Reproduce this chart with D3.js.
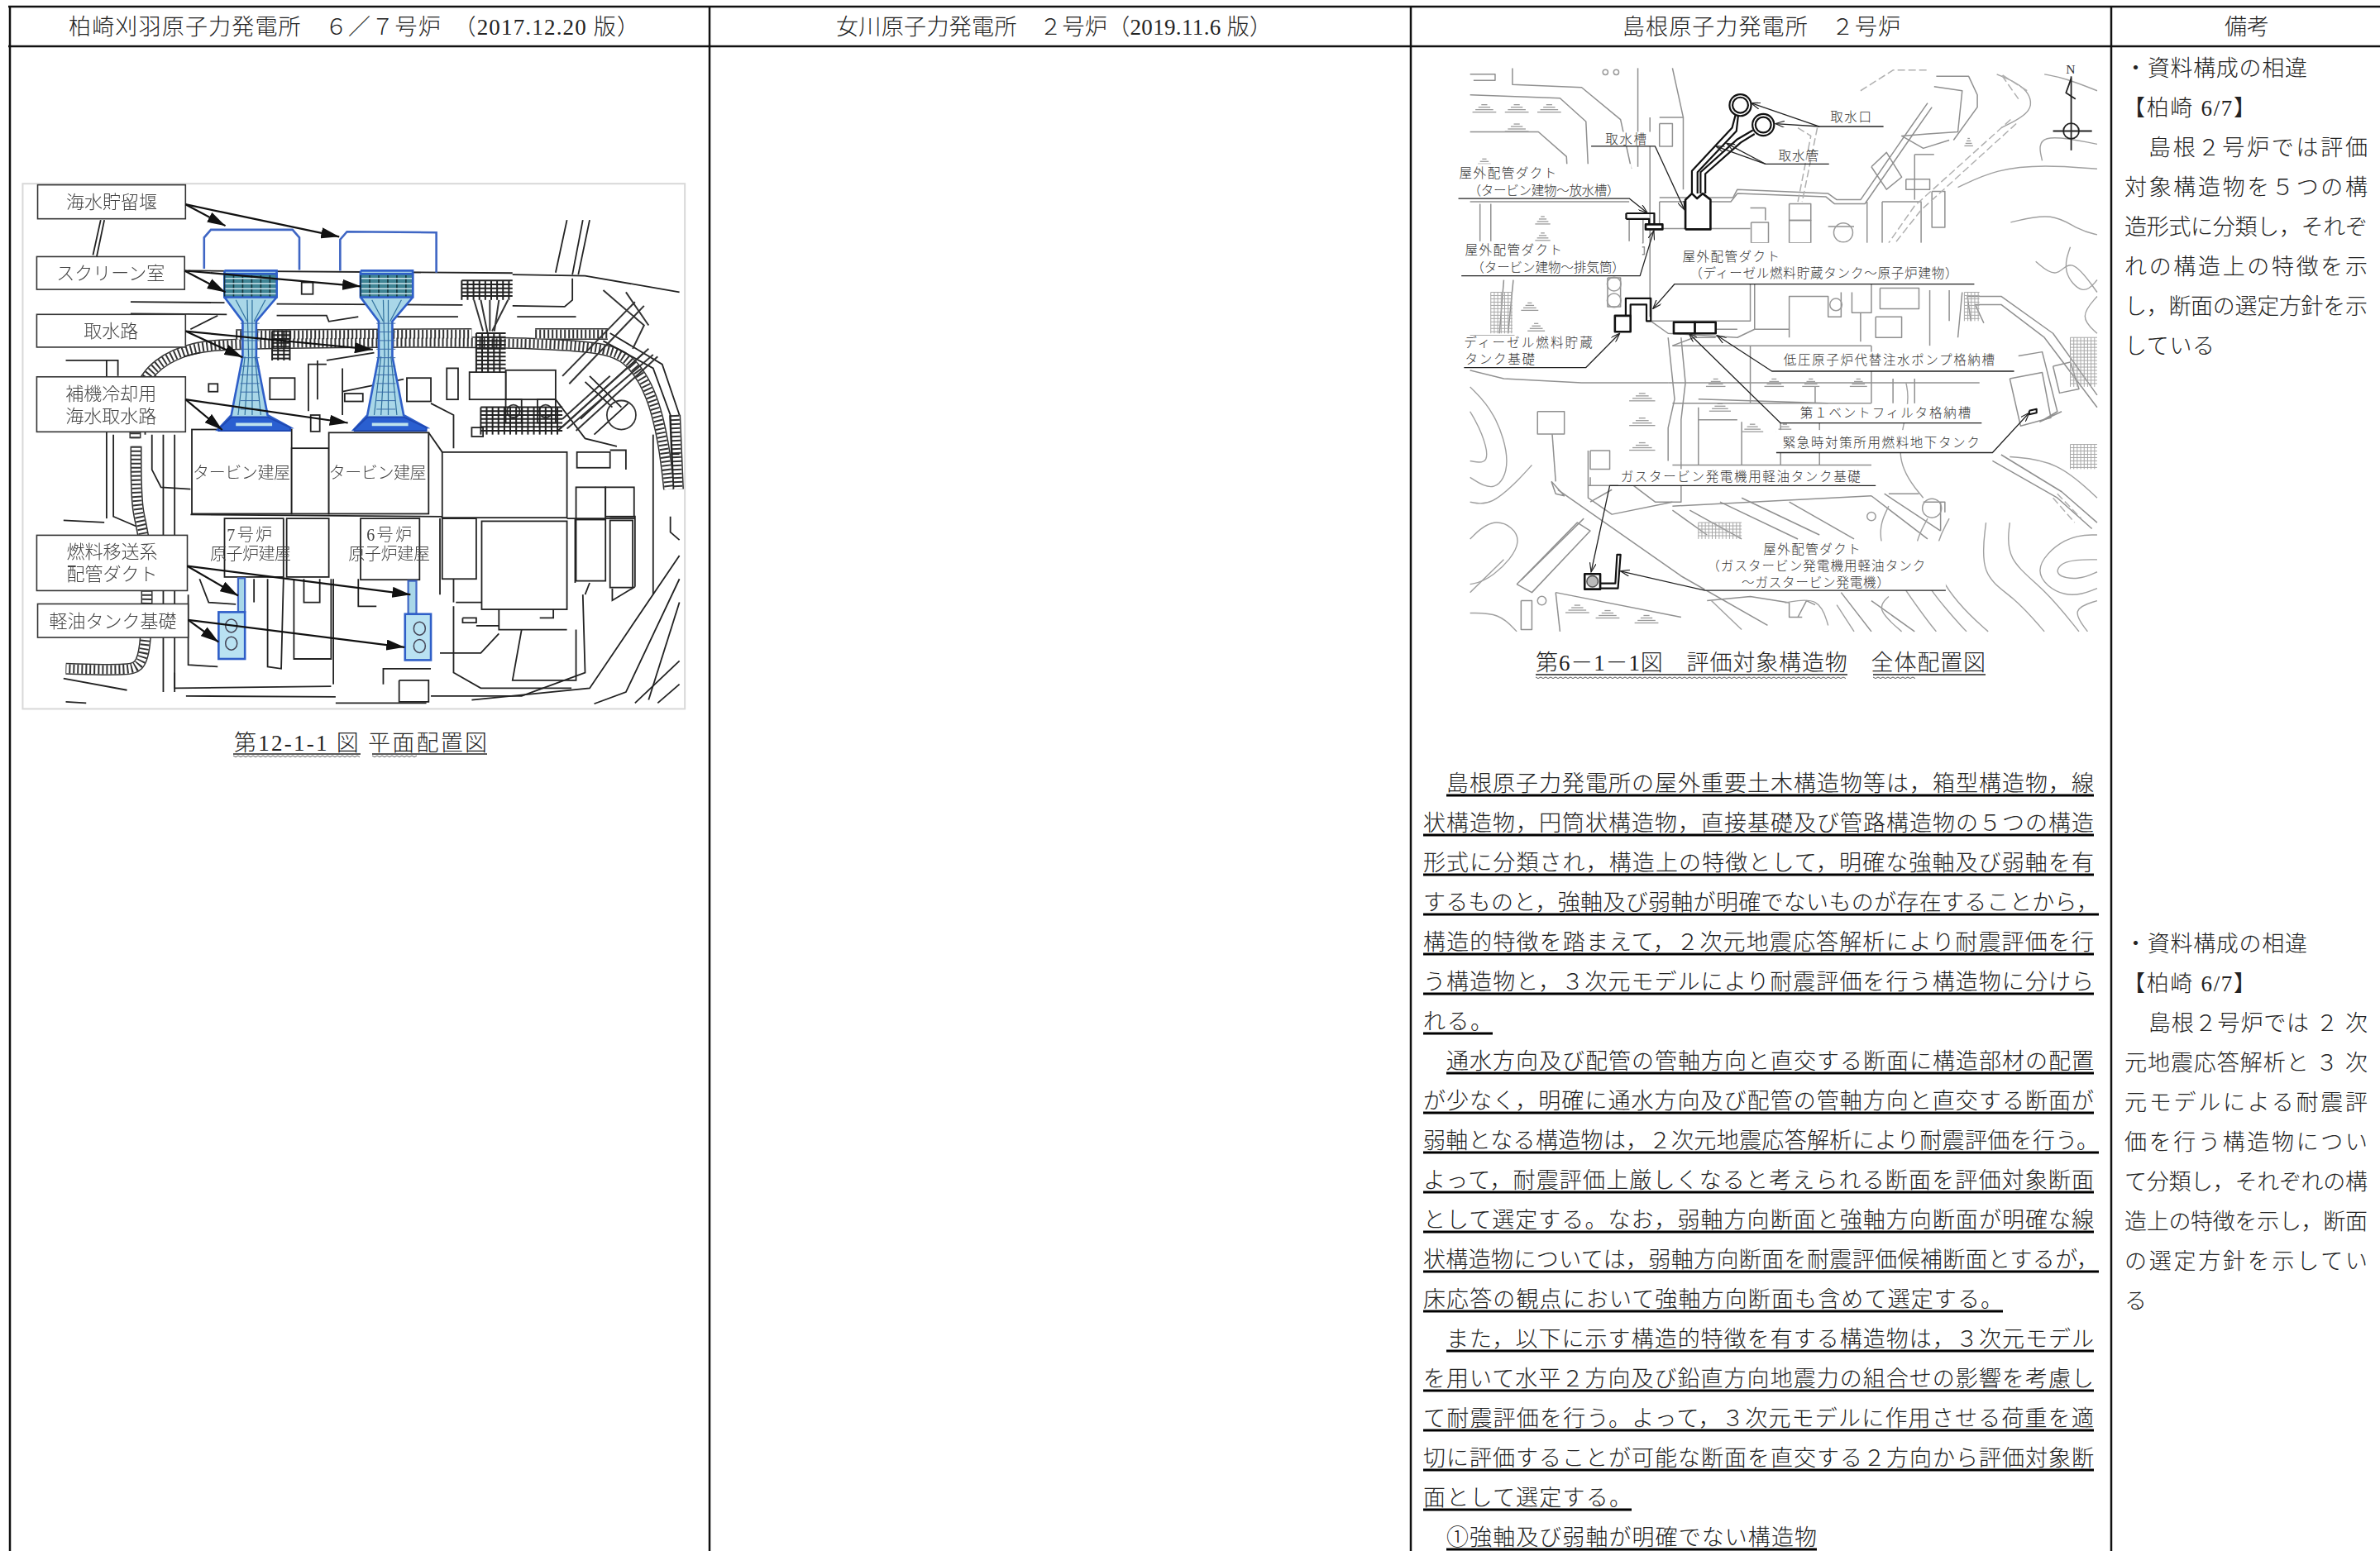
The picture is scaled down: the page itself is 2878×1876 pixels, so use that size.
<!DOCTYPE html>
<html>
<head>
<meta charset="utf-8">
<script src="https://cdn.jsdelivr.net/npm/d3@7"></script>
<style>
  html, body { margin: 0; background: #fff; }
  svg { display: block; }
  text { font-family: 'Liberation Serif', 'Noto Sans CJK JP', serif; font-weight: 300; }
</style>
</head>
<body>
<div id="page"></div>
<script>
// Dimensions de la page
const width = 2878;
const height = 1876;

// Tableau : colonnes et en-têtes
const columnRules = [12, 858, 1706, 2553];
const headerRules = [8, 56];
const headers = [
  ['柏崎刈羽原子力発電所　６／７号炉　（2017.12.20 版）', 83, 773],
  ['女川原子力発電所　２号炉（2019.11.6 版）', 1011, 1538],
  ['島根原子力発電所　２号炉', 1962, 2298],
  ['備考', 2690, 2744]
];

// Texte principal (colonne Shimane) : [texte, début, fin]
const bodyLines = [
  ['島根原子力発電所の屋外重要土木構造物等は，箱型構造物，線', 1749, 2532],
  ['状構造物，円筒状構造物，直接基礎及び管路構造物の５つの構造', 1721, 2532],
  ['形式に分類され，構造上の特徴として，明確な強軸及び弱軸を有', 1721, 2532],
  ['するものと，強軸及び弱軸が明確でないものが存在することから，', 1721, 2538],
  ['構造的特徴を踏まえて，２次元地震応答解析により耐震評価を行', 1721, 2532],
  ['う構造物と，３次元モデルにより耐震評価を行う構造物に分けら', 1721, 2532],
  ['れる。', 1721, 1805],
  ['通水方向及び配管の管軸方向と直交する断面に構造部材の配置', 1749, 2532],
  ['が少なく，明確に通水方向及び配管の管軸方向と直交する断面が', 1721, 2532],
  ['弱軸となる構造物は，２次元地震応答解析により耐震評価を行う。', 1721, 2538],
  ['よって，耐震評価上厳しくなると考えられる断面を評価対象断面', 1721, 2532],
  ['として選定する。なお，弱軸方向断面と強軸方向断面が明確な線', 1721, 2532],
  ['状構造物については，弱軸方向断面を耐震評価候補断面とするが，', 1721, 2538],
  ['床応答の観点において強軸方向断面も含めて選定する。', 1721, 2422],
  ['また，以下に示す構造的特徴を有する構造物は，３次元モデル', 1749, 2532],
  ['を用いて水平２方向及び鉛直方向地震力の組合せの影響を考慮し', 1721, 2532],
  ['て耐震評価を行う。よって，３次元モデルに作用させる荷重を適', 1721, 2532],
  ['切に評価することが可能な断面を直交する２方向から評価対象断', 1721, 2532],
  ['面として選定する。', 1721, 1973],
  ['①強軸及び弱軸が明確でない構造物', 1749, 2197]
];
const bodyFirstUnderline = 962;
const linePitch = 48;

// Colonne « Remarques » : [texte, début, fin]
const noteBlockA = [
  ['・資料構成の相違', 2569, 2790],
  ['【柏崎 6/7】', 2567, 2728],
  ['島根２号炉では評価', 2598, 2863],
  ['対象構造物を５つの構', 2569, 2863],
  ['造形式に分類し，それぞ', 2569, 2863],
  ['れの構造上の特徴を示', 2569, 2863],
  ['し，断面の選定方針を示', 2569, 2863],
  ['している', 2569, 2678]
];
const noteBlockB = [
  ['・資料構成の相違', 2569, 2790],
  ['【柏崎 6/7】', 2567, 2728],
  ['島根２号炉では ２ 次', 2598, 2863],
  ['元地震応答解析と ３ 次', 2569, 2863],
  ['元モデルによる耐震評', 2569, 2863],
  ['価を行う構造物につい', 2569, 2863],
  ['て分類し，それぞれの構', 2569, 2863],
  ['造上の特徴を示し，断面', 2569, 2863],
  ['の選定方針を示してい', 2569, 2863],
  ['る', 2569, 2596]
];

const leftBoxes = [
  [83, 50, 409, 137, ['海水貯留堰']],
  [81, 234, 407, 318, ['スクリーン室']],
  [81, 382, 409, 466, ['取水路']],
  [81, 542, 409, 683, ['補機冷却用', '海水取水路']],
  [81, 948, 413, 1090, ['燃料移送系', '配管ダクト']],
  [83, 1124, 415, 1210, ['軽油タンク基礎']]
];
const leftArrows = [
  [[409, 100], [497, 155]], [[409, 100], [748, 183]],
  [[407, 270], [497, 325]], [[407, 270], [795, 310]],
  [[409, 425], [535, 492]], [[409, 425], [822, 472]],
  [[409, 600], [490, 678]], [[409, 600], [767, 660]],
  [[413, 1027], [525, 1103]], [[413, 1027], [905, 1100]],
  [[415, 1165], [482, 1222]], [[415, 1165], [892, 1235]]
];
const leftBuildingLabels = [
  ['タービン建屋', 425, 640, 785], ['タービン建屋', 725, 940, 785],
  ['7号炉', 500, 600, 943], ['原子炉建屋', 463, 642, 992],
  ['6号炉', 808, 908, 943], ['原子炉建屋', 768, 948, 992]
];
// Bâtiments [x0, y0, x1, y1]
const leftBuildings = [
  [423, 677, 643, 893], [643, 725, 725, 893], [725, 685, 945, 893], [975, 735, 1250, 903],
  [1270, 825, 1335, 905], [1335, 825, 1398, 900], [1272, 735, 1345, 775],
  [495, 905, 625, 1055], [632, 905, 725, 1055], [795, 905, 925, 1062],
  [1062, 912, 1250, 1138], [1270, 908, 1335, 1065], [1345, 910, 1395, 1082],
  [975, 905, 1050, 1060], [1115, 525, 1225, 600], [1035, 530, 1115, 600],
  [595, 545, 650, 600], [897, 545, 950, 605], [1115, 600, 1150, 660], [1185, 600, 1225, 660],
  [1040, 672, 1065, 695], [665, 300, 690, 330], [685, 640, 705, 682], [460, 560, 480, 580], [985, 520, 1010, 600], [760, 585, 800, 605]
];
// Traits noirs du plan
const leftLines = [
  [[415, 270], [1130, 276]], [[1130, 280], [1290, 283], [1498, 325]],
  [[1225, 275], [1250, 140]], [[1262, 280], [1285, 140]], [[1275, 280], [1300, 140]],
  [[205, 230], [222, 140]], [[213, 235], [230, 140]],
  [[288, 350], [495, 352]], [[610, 355], [1020, 358]], [[1130, 360], [1245, 362], [1262, 345], [1262, 290]],
  [[288, 380], [500, 382]], [[610, 385], [720, 385], [725, 400], [790, 388]], [[870, 388], [1010, 388]], [[1140, 388], [1270, 388]],
  [[420, 420], [480, 385]], [[1330, 450], [1440, 520], [1478, 640], [1485, 830]], [[1345, 430], [1460, 510], [1498, 640]],
  [[140, 910], [230, 915]], [[235, 500], [235, 905]], [[145, 500], [260, 500], [260, 540]], [[250, 690], [250, 900], [300, 925]],
  [[420, 895], [1250, 903]], [[945, 685], [975, 735]], [[1250, 905], [1400, 905]],
  [[385, 690], [385, 1350]], [[360, 690], [360, 1350]], [[385, 1300], [385, 1340], [730, 1335]],
  [[335, 690], [335, 780], [355, 825], [420, 830]], [[345, 540], [320, 560], [320, 690]], [[405, 490], [440, 480]],
  [[415, 1100], [415, 1280], [480, 1285]], [[590, 1060], [590, 1285], [620, 1290], [625, 1060]], [[560, 1060], [560, 1120]],
  [[648, 1060], [648, 1265], [730, 1265], [730, 1060]], [[670, 1060], [670, 1120], [705, 1120], [705, 1060]],
  [[735, 1060], [735, 1330]], [[845, 1330], [845, 1290], [950, 1290]], [[880, 1320], [945, 1320], [945, 1375], [880, 1375], [880, 1320]],
  [[1000, 1130], [1000, 1300], [1060, 1340], [1260, 1340]], [[1005, 1120], [1100, 1120], [1100, 1190], [1250, 1190]],
  [[1150, 1190], [1130, 1320], [1270, 1320], [1270, 1190]], [[970, 1250], [1060, 1250], [1100, 1200]],
  [[1285, 1100], [1290, 1300], [1150, 1360], [950, 1360]], [[1498, 1000], [1300, 1340], [1040, 1370]],
  [[1498, 1060], [1380, 1350], [1310, 1380]], [[1498, 1120], [1430, 1370]], [[1498, 1270], [1400, 1378]],
  [[1498, 1330], [1450, 1378]], [[1400, 1080], [1400, 900], [1345, 900]], [[1350, 1085], [1350, 1115], [1400, 1080]],
  [[140, 1315], [280, 1345]], [[410, 1360], [740, 1362]], [[145, 1375], [190, 1378]], [[740, 1378], [940, 1378]],
  [[755, 580], [890, 548]], [[720, 500], [825, 480]], [[1480, 740], [1498, 740]],
  [[1268, 1070], [1268, 905]], [[950, 610], [1000, 640], [1000, 725]], [[1225, 600], [1290, 700], [1360, 720]],
  [[1345, 730], [1380, 730], [1380, 780]], [[1440, 690], [1440, 1100]], [[1478, 900], [1478, 940], [1498, 960]],
  [[1000, 1060], [1000, 1120]], [[970, 905], [970, 1100]], [[1300, 1070], [1290, 1100]], [[790, 1060], [790, 1130], [830, 1130]],
  [[440, 1060], [460, 1120], [520, 1125]], [[1050, 1180], [1100, 1180]], [[1020, 1160], [1050, 1160], [1050, 1172], [1020, 1172], [1020, 1160]],
  [[1150, 1100], [1220, 1100], [1220, 1160], [1190, 1160]], [[700, 500], [700, 600]], [[720, 510], [680, 510], [680, 630]], [[755, 520], [755, 640]],
  [[990, 520], [990, 600]], [[1300, 540], [1370, 620]], [[1290, 555], [1350, 620]], [[1345, 580], [1280, 650]], [[1385, 610], [1310, 690]]
];
// Bande hachurée (routes)
const leftHatchBands = [
  [[298, 700], [298, 580], [345, 505], [425, 465], [520, 455], [1300, 450], [1390, 490], [1440, 590], [1465, 720], [1475, 830]],
  [[300, 720], [300, 900], [325, 950], [325, 1280], [290, 1295], [145, 1290]],
  [[520, 435], [1040, 432]], [[1180, 432], [1340, 432]], [[1488, 640], [1495, 830]]
];
const leftDenseBoxes = [[1018, 295, 1130, 345], [1060, 620, 1240, 690], [1050, 430, 1115, 530], [600, 425, 640, 500]];
const leftDiagonals = [
  [[1240, 540], [1400, 350]], [[1255, 560], [1420, 360]], [[1230, 680], [1430, 470]],
  [[1270, 680], [1450, 490]], [[1240, 650], [1345, 540]], [[1330, 320], [1420, 410], [1395, 470]],
  [[1380, 325], [1430, 410]], [[1060, 345], [1075, 430]], [[1120, 345], [1085, 425]], [[1045, 345], [1065, 425]],
  [[1080, 345], [1080, 425]], [[1100, 345], [1090, 425]], [[1240, 670], [1420, 480]], [[1250, 675], [1440, 485]]
];
const leftCircles = [[1132, 630, 14], [1203, 630, 14], [1370, 640, 32]];
// Ouvrages bleus : même géométrie décalée pour les tranches 7 et 6
const leftIntakeOffsets = [0, 300];
const intakeOutline = [[495, 270], [610, 270], [610, 338], [565, 400], [565, 490], [590, 640], [640, 672], [480, 678], [510, 640], [535, 490], [535, 400], [495, 338]];
const intakeChannels = [[520, 345, 545, 400], [545, 345, 548, 490], [556, 345, 556, 640], [585, 345, 560, 400], [540, 490, 525, 640], [548, 490, 540, 640], [562, 490, 575, 640]];
const reservoirs = [
  [[450, 265], [450, 185], [465, 165], [645, 165], [660, 185], [660, 268]],
  [[750, 270], [750, 190], [765, 170], [962, 172], [962, 275]]
];
const fuelDucts = [[525, 1058, 540, 1145], [900, 1065, 918, 1150]];
const tankPads = [[482, 1145, 540, 1265], [893, 1150, 950, 1268]];
const tankCircles = [[510, 1180], [510, 1225], [925, 1187], [925, 1232]];

const rightLabels = [
  ['取水口', 905, 1000, 160], ['取水槽', 385, 480, 215], ['取水管', 785, 878, 255],
  ['屋外配管ダクト', 47, 272, 298], ['（タービン建物～放水槽）', 68, 418, 340],
  ['屋外配管ダクト', 60, 285, 485], ['（タービン建物～排気筒）', 75, 430, 527],
  ['屋外配管ダクト', 563, 788, 500], ['（ディーゼル燃料貯蔵タンク～原子炉建物）', 580, 1200, 540],
  ['ディーゼル燃料貯蔵', 58, 355, 710], ['タンク基礎', 60, 222, 750],
  ['低圧原子炉代替注水ポンプ格納槽', 797, 1285, 752],
  ['第１ベントフィルタ格納槽', 835, 1230, 880],
  ['緊急時対策所用燃料地下タンク', 795, 1250, 952],
  ['ガスタービン発電機用軽油タンク基礎', 420, 975, 1035],
  ['屋外配管ダクト', 750, 975, 1212],
  ['（ガスタービン発電機用軽油タンク', 620, 1125, 1252],
  ['～ガスタービン発電機）', 700, 1042, 1293],
  ['N', 1450, 1475, 45]
];
// Fonds blancs derrière les étiquettes
const rightMasks = [
  [45, 278, 445, 362], [52, 466, 470, 550], [500, 470, 1240, 570], [52, 695, 345, 773],
  [790, 735, 1330, 782], [790, 862, 1255, 908], [780, 925, 1285, 980], [415, 1020, 1010, 1060],
  [615, 1195, 1172, 1315], [360, 200, 490, 235]
];
// Traits gris (bâtiments et routes)
const rightGrayLines = [
  [[72, 60], [130, 60], [130, 75], [80, 75]], [[170, 45], [170, 85], [330, 92], [420, 170], [445, 290]],
  [[72, 110], [280, 118], [340, 175], [345, 285]], [[72, 200], [230, 200], [295, 260], [300, 360]],
  [[460, 45], [460, 285]], [[488, 165], [488, 650]], [[510, 165], [565, 165], [565, 340]], [[510, 180], [540, 180], [540, 235], [510, 235], [510, 180]],
  [[540, 45], [565, 165]], [[510, 360], [680, 360], [690, 340], [900, 350], [920, 365], [975, 365], [1090, 190], [1130, 130]],
  [[510, 370], [675, 370], [690, 350], [895, 358], [915, 375], [985, 375], [1100, 200], [1140, 140]],
  [[1150, 65], [1225, 65], [1245, 110], [1245, 140], [1190, 220]], [[1145, 90], [1210, 100], [1200, 200], [1130, 205], [1070, 210], [1120, 240], [1180, 220]],
  [[1000, 285], [1035, 250], [1070, 310], [1035, 340], [1000, 285]], [[1100, 255], [1145, 255]], [[1100, 255], [1100, 365]],
  [[1080, 315], [1135, 315], [1135, 340], [1080, 340], [1080, 315]], [[1140, 345], [1170, 345], [1170, 432], [1140, 432], [1140, 345]],
  [[1025, 370], [1115, 370], [1115, 470]], [[1025, 370], [1025, 470]],
  [[810, 375], [860, 375], [860, 415], [810, 415], [810, 375]], [[810, 415], [860, 415], [860, 470], [810, 470], [810, 415]],
  [[720, 385], [755, 385], [755, 415]], [[722, 420], [762, 420], [762, 470], [722, 470], [722, 420]],
  [[510, 370], [510, 435], [720, 435]], [[900, 430], [960, 430]], [[990, 370], [990, 470]],
  [[440, 412], [472, 412], [472, 470], [440, 470], [440, 412]], [[455, 480], [475, 480], [475, 498], [455, 498], [455, 480]],
  [[390, 555], [420, 555], [420, 625], [390, 625], [390, 555]],
  [[490, 660], [720, 660], [720, 570]], [[730, 570], [730, 680], [810, 680], [810, 600], [900, 600], [900, 650], [930, 650], [930, 590]],
  [[955, 590], [955, 640], [1000, 640], [1000, 570]], [[1010, 650], [1070, 650], [1070, 700], [1010, 700], [1010, 650]],
  [[1020, 580], [1110, 580], [1110, 630], [1020, 630], [1020, 580]], [[975, 640], [975, 710]],
  [[490, 660], [530, 690], [690, 700], [730, 680]], [[810, 680], [810, 700]], [[640, 680], [690, 680]],
  [[530, 700], [545, 850], [530, 920], [530, 1000]], [[560, 700], [570, 810], [560, 900], [560, 1000]],
  [[72, 780], [150, 800], [330, 810], [530, 810]], [[530, 810], [1250, 810]], [[600, 850], [900, 860]], [[870, 820], [870, 860]],
  [[228, 880], [290, 880], [290, 935], [228, 935], [228, 880]], [[262, 935], [270, 1050]],
  [[350, 975], [395, 975], [395, 1020], [350, 1020], [350, 975]], [[345, 1060], [450, 1060], [500, 1100], [560, 1100], [560, 1000]],
  [[345, 975], [345, 1090], [400, 1130], [540, 1100]], [[190, 1340], [215, 1340], [215, 1410], [190, 1410], [190, 1340]],
  [[270, 1320], [560, 1380]], [[280, 1415], [270, 1320]], [[180, 1300], [320, 1150], [350, 1170], [215, 1320], [180, 1300]],
  [[190, 1290], [335, 1140]], [[260, 1050], [290, 1085], [270, 1080], [260, 1050]], [[275, 1070], [560, 1280], [760, 1400]],
  [[540, 1120], [620, 1180]], [[580, 1120], [700, 1190]], [[650, 1100], [830, 1190]], [[700, 1090], [880, 1180]],
  [[810, 1100], [960, 1190]], [[1120, 1100], [1170, 1100], [1170, 1125]], [[1280, 1000], [1430, 1090], [1510, 1165]],
  [[1300, 985], [1440, 1075], [1522, 1150]], [[1320, 800], [1395, 785], [1415, 895], [1345, 915], [1320, 800]],
  [[1340, 745], [1395, 735], [1430, 880], [1390, 905], [1440, 880]], [[1420, 770], [1460, 760], [1480, 825], [1435, 835], [1420, 770]],
  [[1260, 665], [1240, 620], [1300, 620], [1400, 700], [1522, 870]], [[1230, 660], [1222, 600], [1300, 600], [1420, 690], [1522, 840]],
  [[1135, 585], [1135, 720]], [[1180, 585], [1180, 660]], [[1210, 590], [1200, 700]], [[1160, 1170], [1160, 1100]],
  [[72, 370], [440, 370]], [[95, 375], [95, 470]], [[120, 375], [120, 470]], [[150, 560], [140, 690]], [[172, 560], [160, 690]],
  [[72, 695], [175, 695]], [[540, 720], [1000, 720]], [[540, 860], [1000, 860]], [[600, 900], [690, 900]], [[540, 720], [590, 700], [640, 700]],
  [[720, 720], [720, 860]], [[1000, 720], [1000, 860]], [[1050, 800], [1050, 860]], [[1100, 800], [1100, 860]],
  [[600, 870], [600, 1010]], [[700, 905], [700, 1010]], [[790, 905], [790, 1010]], [[880, 905], [880, 1010]], [[540, 1010], [1000, 1010]],
  [[350, 1100], [400, 1070]], [[1040, 1080], [1110, 1080]], [[540, 1110], [1000, 1085]], [[1000, 1085], [1130, 1190]], [[1030, 1080], [1160, 1170]],
  [[350, 1040], [350, 1060]], [[620, 1340], [720, 1330], [810, 1345]], [[830, 1380], [850, 1340], [870, 1350]], [[810, 1345], [810, 1380], [840, 1380]],
  [[1000, 1340], [1100, 1415]], [[1040, 1240], [1060, 1310]], [[930, 1320], [1000, 1415]]
];
// Courbes de niveau et routes adoucies
const rightContours = [
  [[1200, 335], [1290, 290], [1400, 280], [1522, 290]], [[1322, 420], [1420, 395], [1480, 440], [1522, 450]],
  [[1380, 515], [1430, 560], [1460, 500], [1522, 590]], [[1522, 600], [1480, 650], [1522, 690]],
  [[1080, 810], [1090, 860], [1050, 1000], [1120, 1090]], [[1265, 1150], [1250, 1280], [1330, 1330], [1400, 1415]],
  [[1180, 1140], [1130, 1240], [1200, 1350], [1270, 1415]], [[1040, 1110], [1000, 1200], [1130, 1390], [1150, 1415]],
  [[1522, 1180], [1450, 1180], [1360, 1270], [1450, 1340], [1522, 1310]], [[1522, 1240], [1440, 1240], [1420, 1280], [1480, 1290], [1522, 1270]],
  [[72, 820], [130, 880], [170, 1010], [130, 1080], [72, 1040]], [[72, 880], [100, 930], [120, 1010], [72, 1000]],
  [[72, 1190], [130, 1130], [210, 1190], [120, 1290], [72, 1300]], [[72, 1320], [150, 1240]], [[72, 1370], [140, 1370], [180, 1415]],
  [[1290, 60], [1360, 90], [1380, 150], [1300, 190]], [[1522, 100], [1450, 70], [1400, 60]], [[1395, 270], [1380, 200], [1522, 230]],
  [[1460, 480], [1440, 540], [1490, 600], [1522, 560]], [[800, 1345], [880, 1330], [900, 1400]], [[630, 1340], [700, 1410]],
  [[1040, 1330], [1010, 1360], [1070, 1415]], [[920, 1350], [960, 1415]],
  [[1130, 1140], [1080, 1240], [1180, 1370], [1220, 1415]], [[1320, 1150], [1310, 1240], [1400, 1310], [1480, 1415]],
  [[1522, 1340], [1460, 1360], [1500, 1415]], [[1320, 990], [1430, 1000], [1522, 1090]], [[72, 1100], [120, 1110], [190, 1040], [215, 1010]]
];
const rightDashed = [
  [[1322, 170], [1100, 380], [1040, 470]], [[1335, 180], [1115, 390], [1055, 470]],
  [[1360, 100], [1300, 60], [1340, 120]], [[830, 190], [860, 210], [830, 370]], [[875, 190], [840, 370]],
  [[1420, 1090], [1470, 1150]], [[1430, 1080], [1485, 1140]], [[975, 100], [1050, 50], [1130, 50]]
];
const rightGrayCircles = [
  [385, 55, 6], [410, 55, 6], [935, 445, 22], [405, 570, 16], [405, 610, 16], [918, 620, 14], [1140, 1115, 22], [238, 1340, 10], [1000, 1135, 10]
];
// Symbole de talus : [x, y, largeur]
const rightTreeMarks = [
  [105, 128, 55], [180, 128, 55], [255, 128, 55], [180, 175, 55], [105, 260, 40], [640, 795, 45], [775, 795, 45], [860, 795, 40],
  [970, 795, 40], [470, 830, 60], [470, 890, 60], [470, 950, 60], [650, 855, 50], [725, 905, 50], [800, 905, 40],
  [320, 1345, 55], [390, 1358, 55], [480, 1370, 55], [1225, 210, 20], [210, 610, 40], [225, 660, 40], [240, 400, 35], [240, 440, 35]
];
const rightHatchAreas = [[1215, 590, 1250, 660], [1460, 700, 1522, 820], [1460, 960, 1522, 1020], [120, 590, 170, 690], [600, 1150, 700, 1190]];
// Ouvrages évalués (en noir)
const rightStructureLines = [
  [[585, 350], [585, 295], [678, 190], [686, 158]], [[598, 350], [598, 298], [688, 198], [692, 160]],
  [[605, 350], [605, 298], [690, 218], [726, 196]], [[616, 350], [616, 302], [698, 226], [730, 205]],
  [[433, 398], [498, 398], [498, 425]], [[433, 412], [486, 412], [486, 425]], [[433, 398], [433, 412]],
  [[432, 647], [432, 605], [490, 605], [490, 660], [480, 660], [480, 620], [443, 620], [443, 647]],
  [[373, 1298], [408, 1298], [412, 1228], [420, 1228], [414, 1310], [373, 1310]]
];
const rightTankPit = [[570, 437], [570, 365], [585, 350], [597, 362], [610, 350], [628, 365], [628, 437], [570, 437]];
const rightStructureBoxes = [[478, 425, 517, 437], [407, 647, 443, 686], [543, 663, 592, 690], [592, 663, 640, 690], [337, 1275, 373, 1312]];
const rightIntakeRings = [[697, 135, 25], [750, 183, 25], [697, 135, 18], [750, 183, 18]];
// Lignes de rappel des étiquettes
const rightLeaders = [
  [[1028, 187], [880, 187], [722, 130]], [[880, 187], [778, 180]],
  [[902, 278], [755, 278], [665, 228]], [[755, 278], [640, 235]],
  [[352, 235], [500, 235], [568, 390]],
  [[45, 362], [440, 362], [482, 397]],
  [[52, 550], [465, 550], [497, 440]],
  [[1238, 570], [545, 570], [495, 630]],
  [[58, 773], [340, 773], [418, 690]],
  [[1330, 782], [770, 782], [643, 695]],
  [[1255, 908], [790, 908], [578, 690]],
  [[780, 980], [1280, 980], [1365, 883]],
  [[1010, 1060], [395, 1060], [352, 1270]],
  [[1172, 1315], [615, 1315], [420, 1268]]
];

// Légendes des figures
const leftCaption = { text: '第12-1-1 図 平面配置図', x0: 283, x1: 589, y: 908 };
const rightCaption = { text: '第6－1－1図　評価対象構造物　全体配置図', x0: 1857, x1: 2401, y: 811 };

// Echelles : coordonnées de chaque plan vers la page
const lx = d3.scaleLinear().domain([0, 1568]).range([0, 860]);
const ly = d3.scaleLinear().domain([0, 1568]).range([200, 940]);
const rx = d3.scaleLinear().domain([0, 1568]).range([1740, 2560]);
const ry = d3.scaleLinear().domain([0, 1568]).range([60, 840]);

const svg = d3.select('#page').append('svg')
  .attr('width', width)
  .attr('height', height)
  .attr('viewBox', `0 0 ${width} ${height}`);

const defs = svg.append('defs');
defs.append('marker')
  .attr('id', 'head')
  .attr('viewBox', '0 0 10 6')
  .attr('refX', 10).attr('refY', 3)
  .attr('markerWidth', 10).attr('markerHeight', 6)
  .attr('markerUnits', 'strokeWidth')
  .attr('orient', 'auto')
  .append('path').attr('d', 'M0,0L10,3L0,6Z').attr('fill', '#111');
defs.append('marker')
  .attr('id', 'open')
  .attr('viewBox', '0 0 12 8')
  .attr('refX', 11).attr('refY', 4)
  .attr('markerWidth', 12).attr('markerHeight', 8)
  .attr('markerUnits', 'userSpaceOnUse')
  .attr('orient', 'auto')
  .append('path').attr('d', 'M0,0L11,4L0,8').attr('fill', 'none').attr('stroke', '#222').attr('stroke-width', 1.2);

// Texte ajusté à sa largeur
function fitText(g, rows, size, fill) {
  g.selectAll(null).data(rows).join('text')
    .attr('x', d => d.x0)
    .attr('y', d => d.y)
    .attr('textLength', d => d.x1 - d.x0)
    .attr('lengthAdjust', 'spacing')
    .attr('font-size', size)
    .attr('fill', fill || '#222')
    .text(d => d.text);
}

function rectsOf(g, data, sx, sy) {
  return g.selectAll(null).data(data).join('rect')
    .attr('x', d => sx(d[0]))
    .attr('y', d => sy(d[1]))
    .attr('width', d => sx(d[2]) - sx(d[0]))
    .attr('height', d => sy(d[3]) - sy(d[1]));
}

function linesOf(g, data, sx, sy, curve) {
  const line = d3.line().x(d => sx(d[0])).y(d => sy(d[1])).curve(curve || d3.curveLinear);
  return g.selectAll(null).data(data).join('path')
    .attr('d', line)
    .attr('fill', 'none');
}

function circlesOf(g, data, sx, sy) {
  return g.selectAll(null).data(data).join('circle')
    .attr('cx', d => sx(d[0]))
    .attr('cy', d => sy(d[1]))
    .attr('r', d => sx(d[2]) - sx(0));
}

// ---- Plan de gauche (Kashiwazaki) ----
function drawLeftMap() {
  const frame = svg.append('g');
  rectsOf(frame, [[50, 47, 1510, 1393]], lx, ly).attr('fill', '#fff').attr('stroke', '#d8d8d8').attr('stroke-width', 2);

  const g = svg.append('g').style('filter', 'blur(0.5px)');

  // Routes hachurées
  const bands = g.append('g');
  linesOf(bands, leftHatchBands, lx, ly, d3.curveBasis).attr('stroke', '#333').attr('stroke-width', 14);
  linesOf(bands, leftHatchBands, lx, ly, d3.curveBasis).attr('stroke', '#fff').attr('stroke-width', 11);
  linesOf(bands, leftHatchBands, lx, ly, d3.curveBasis).attr('stroke', '#333').attr('stroke-width', 11).attr('stroke-dasharray', '2 3');

  linesOf(g.append('g'), leftLines, lx, ly).attr('stroke', '#222').attr('stroke-width', 1.8);
  linesOf(g.append('g'), leftDiagonals, lx, ly).attr('stroke', '#333').attr('stroke-width', 2);

  rectsOf(g.append('g'), leftBuildings, lx, ly).attr('fill', '#fff').attr('stroke', '#222').attr('stroke-width', 1.8);
  circlesOf(g.append('g'), leftCircles, lx, ly).attr('fill', 'none').attr('stroke', '#333').attr('stroke-width', 1.8);

  // Zones denses (grilles sombres)
  const dense = g.append('g');
  leftDenseBoxes.forEach(b => {
    const gx = d3.range(b[0], b[2], 13);
    const gy = d3.range(b[1], b[3], 10);
    dense.selectAll(null).data(gx).join('line')
      .attr('x1', d => lx(d)).attr('x2', d => lx(d))
      .attr('y1', ly(b[1])).attr('y2', ly(b[3]))
      .attr('stroke', '#222').attr('stroke-width', 2);
    dense.selectAll(null).data(gy).join('line')
      .attr('y1', d => ly(d)).attr('y2', d => ly(d))
      .attr('x1', lx(b[0])).attr('x2', lx(b[2]))
      .attr('stroke', '#222').attr('stroke-width', 2);
  });

  // Réservoirs et prises d'eau en bleu
  linesOf(g.append('g'), reservoirs, lx, ly).attr('stroke', '#3f66c4').attr('stroke-width', 2.6);
  const blue = g.append('g');
  leftIntakeOffsets.forEach(off => {
    const shift = p => [p[0] + off, p[1]];
    linesOf(blue.append('g'), [intakeOutline.map(shift).concat([shift(intakeOutline[0])])], lx, ly)
      .attr('fill', '#a9d7e8').attr('stroke', '#2f5fc8').attr('stroke-width', 2.6);
    rectsOf(blue.append('g'), [[495 + off, 278, 610 + off, 338]], lx, ly)
      .attr('fill', '#3f8494').attr('stroke', '#2f5fc8').attr('stroke-width', 2.5);
    blue.append('g').selectAll(null).data(d3.range(495, 610, 20)).join('line')
      .attr('x1', d => lx(d + off)).attr('x2', d => lx(d + off))
      .attr('y1', ly(282)).attr('y2', ly(336))
      .attr('stroke', '#12343c').attr('stroke-width', 1.6);
    blue.append('g').selectAll(null).data(d3.range(290, 338, 13)).join('line')
      .attr('x1', lx(497 + off)).attr('x2', lx(608 + off))
      .attr('y1', d => ly(d)).attr('y2', d => ly(d))
      .attr('stroke', '#cfe6ee').attr('stroke-width', 1.5);
    blue.append('g').selectAll(null).data(intakeChannels).join('line')
      .attr('x1', d => lx(d[0] + off)).attr('y1', d => ly(d[1]))
      .attr('x2', d => lx(d[2] + off)).attr('y2', d => ly(d[3]))
      .attr('stroke', '#2f6f9c').attr('stroke-width', 1.2);
    blue.append('g').selectAll(null).data(d3.range(405, 640, 22)).join('line')
      .attr('x1', lx(530 + off)).attr('x2', lx(572 + off))
      .attr('y1', d => ly(d)).attr('y2', d => ly(d))
      .attr('stroke', '#3b6ca8').attr('stroke-width', 1);
    // Base du canal
    linesOf(blue.append('g'), [[[480 + off, 678], [510 + off, 645], [590 + off, 645], [640 + off, 672], [640 + off, 680], [480 + off, 680]]], lx, ly)
      .attr('fill', '#2a5fd0').attr('stroke', '#1f49b4').attr('stroke-width', 2);
    rectsOf(blue.append('g'), [[520 + off, 660, 600 + off, 668]], lx, ly).attr('fill', '#bfe3ee');
  });
  rectsOf(blue.append('g'), fuelDucts, lx, ly).attr('fill', '#a9d7e8').attr('stroke', '#3f66c4').attr('stroke-width', 2.2);
  rectsOf(blue.append('g'), tankPads, lx, ly).attr('fill', '#b9e2f2').attr('stroke', '#2f5fc8').attr('stroke-width', 2.6);
  blue.append('g').selectAll(null).data(tankCircles).join('ellipse')
    .attr('cx', d => lx(d[0])).attr('cy', d => ly(d[1]))
    .attr('rx', 7).attr('ry', 8)
    .attr('fill', 'none').attr('stroke', '#445').attr('stroke-width', 1.5);

  // Noms des bâtiments
  fitText(g.append('g'), leftBuildingLabels.map(d => ({ text: d[0], x0: lx(d[1]), x1: lx(d[2]), y: ly(d[3]) + 9 })), 20, '#444');

  // Etiquettes et flèches
  const labels = g.append('g');
  rectsOf(labels, leftBoxes, lx, ly).attr('fill', '#fff').attr('stroke', '#333').attr('stroke-width', 1.6);
  linesOf(svg.append('g').style('filter', 'blur(0.4px)'), leftArrows, lx, ly)
    .attr('stroke', '#111').attr('stroke-width', 2.2).attr('marker-end', 'url(#head)');
  leftBoxes.forEach(b => {
    const n = b[4].length;
    b[4].forEach((s, i) => {
      labels.append('text')
        .attr('x', lx((b[0] + b[2]) / 2))
        .attr('y', (ly(b[1]) + ly(b[3])) / 2 + 8 + (i - (n - 1) / 2) * 27)
        .attr('text-anchor', 'middle')
        .attr('font-size', 22)
        .attr('fill', '#444')
        .text(s);
    });
  });
}

// ---- Plan de droite (Shimane) ----
function drawRightMap() {
  const g = svg.append('g').attr('stroke-linejoin', 'round');
  linesOf(g.append('g'), rightGrayLines, rx, ry).attr('stroke', '#909090').attr('stroke-width', 1.5);
  linesOf(g.append('g'), rightContours, rx, ry, d3.curveBasis).attr('stroke', '#a0a0a0').attr('stroke-width', 1.4);
  linesOf(g.append('g'), rightDashed, rx, ry).attr('stroke', '#b0b0b0').attr('stroke-width', 1.5).attr('stroke-dasharray', '9 4');
  circlesOf(g.append('g'), rightGrayCircles, rx, ry).attr('fill', 'none').attr('stroke', '#9a9a9a').attr('stroke-width', 1.5);

  // Symboles de talus
  const trees = g.append('g').attr('stroke', '#9a9a9a').attr('stroke-width', 1.3);
  rightTreeMarks.forEach(t => {
    trees.selectAll(null).data([1, 2, 3, 4]).join('line')
      .attr('x1', i => rx(t[0] - t[2] * i / 8)).attr('x2', i => rx(t[0] + t[2] * i / 8))
      .attr('y1', i => ry(t[1] + i * 6)).attr('y2', i => ry(t[1] + i * 6));
  });

  // Zones hachurées
  const hatch = g.append('g').attr('stroke', '#a8a8a8').attr('stroke-width', 1);
  rightHatchAreas.forEach(a => {
    hatch.selectAll(null).data(d3.range(a[0], a[2], 8)).join('line')
      .attr('x1', d => rx(d)).attr('x2', d => rx(d))
      .attr('y1', ry(a[1])).attr('y2', ry(a[3]));
    hatch.selectAll(null).data(d3.range(a[1], a[3], 8)).join('line')
      .attr('x1', rx(a[0])).attr('x2', rx(a[2]))
      .attr('y1', d => ry(d)).attr('y2', d => ry(d));
  });

  rectsOf(g.append('g'), rightMasks, rx, ry).attr('fill', '#fff');

  // Ouvrages
  linesOf(g.append('g'), rightStructureLines, rx, ry).attr('stroke', '#111').attr('stroke-width', 2.2);
  linesOf(g.append('g'), [rightTankPit], rx, ry).attr('fill', '#fff').attr('stroke', '#111').attr('stroke-width', 2.6);
  rectsOf(g.append('g'), rightStructureBoxes, rx, ry).attr('fill', '#fff').attr('stroke', '#111').attr('stroke-width', 2.6);
  circlesOf(g.append('g'), [[355, 1293, 13]], rx, ry).attr('fill', '#bbb').attr('stroke', '#555').attr('stroke-width', 1.5);
  circlesOf(g.append('g'), rightIntakeRings, rx, ry).attr('fill', 'none').attr('stroke', '#111').attr('stroke-width', 2.2);

  const kinkyu = g.append('g');
  linesOf(kinkyu, [[[1365, 878], [1382, 874], [1382, 883], [1365, 887], [1365, 878]]], rx, ry).attr('stroke', '#111').attr('stroke-width', 2);

  // Symbole du nord
  const north = g.append('g').attr('stroke', '#222').attr('stroke-width', 1.8);
  linesOf(north, [[[1462, 65], [1462, 245]], [[1420, 198], [1510, 198]], [[1462, 70], [1450, 105], [1472, 120]]], rx, ry);
  circlesOf(north, [[1462, 198, 18]], rx, ry).attr('fill', 'none');

  // Lignes de rappel
  linesOf(g.append('g'), rightLeaders, rx, ry)
    .attr('stroke', '#222').attr('stroke-width', 1.3).attr('marker-end', 'url(#open)');

  fitText(g.append('g'), rightLabels.map(d => ({ text: d[0], x0: rx(d[1]), x1: rx(d[2]), y: ry(d[3]) + 7 })), 15.5, '#333');
}

// ---- Tableau ----
function drawTable() {
  const rules = svg.append('g').attr('stroke', '#111');
  rules.selectAll(null).data(headerRules).join('line')
    .attr('x1', 10).attr('x2', width)
    .attr('y1', d => d).attr('y2', d => d)
    .attr('stroke-width', 2.5);
  rules.selectAll(null).data(columnRules).join('line')
    .attr('x1', d => d).attr('x2', d => d)
    .attr('y1', 7).attr('y2', height)
    .attr('stroke-width', 2.5);

  fitText(svg.append('g'), headers.map(d => ({ text: d[0], x0: d[1], x1: d[2], y: 42 })), 27);

  fitText(svg.append('g'), bodyLines.map((d, i) => ({ text: d[0], x0: d[1], x1: d[2], y: bodyFirstUnderline + i * linePitch - 5 })), 27);
  svg.append('g').selectAll(null).data(bodyLines).join('line')
    .attr('x1', d => d[1]).attr('x2', d => d[2])
    .attr('y1', (d, i) => bodyFirstUnderline + i * linePitch)
    .attr('y2', (d, i) => bodyFirstUnderline + i * linePitch)
    .attr('stroke', '#000').attr('stroke-width', 3);

  fitText(svg.append('g'), noteBlockA.map((d, i) => ({ text: d[0], x0: d[1], x1: d[2], y: 92 + i * linePitch })), 27);
  fitText(svg.append('g'), noteBlockB.map((d, i) => ({ text: d[0], x0: d[1], x1: d[2], y: 1151 + i * linePitch })), 27);
}

// Soulignement ondulé
function wavy(g, x0, x1, y) {
  const pts = d3.range(x0, x1, 3).map((x, i) => [x, y + (i % 2 ? 1.6 : 0)]);
  g.append('path').attr('d', d3.line()(pts)).attr('fill', 'none').attr('stroke', '#333').attr('stroke-width', 0.8);
}

function drawCaptions() {
  const g = svg.append('g');
  fitText(g, [leftCaption, rightCaption], 27);
  wavy(g, 282, 436, 914);
  wavy(g, 450, 505, 914);
  wavy(g, 1857, 2234, 819);
  wavy(g, 2265, 2318, 819);
  g.selectAll(null).data([[1857, 2234], [2265, 2401]]).join('line')
    .attr('x1', d => d[0]).attr('x2', d => d[1])
    .attr('y1', 816).attr('y2', 816)
    .attr('stroke', '#222').attr('stroke-width', 1.5);
  g.selectAll(null).data([[282, 436], [450, 589]]).join('line')
    .attr('x1', d => d[0]).attr('x2', d => d[1])
    .attr('y1', 912).attr('y2', 912)
    .attr('stroke', '#222').attr('stroke-width', 1.5);
}

drawLeftMap();
drawRightMap();
drawTable();
drawCaptions();
</script>
</body>
</html>
